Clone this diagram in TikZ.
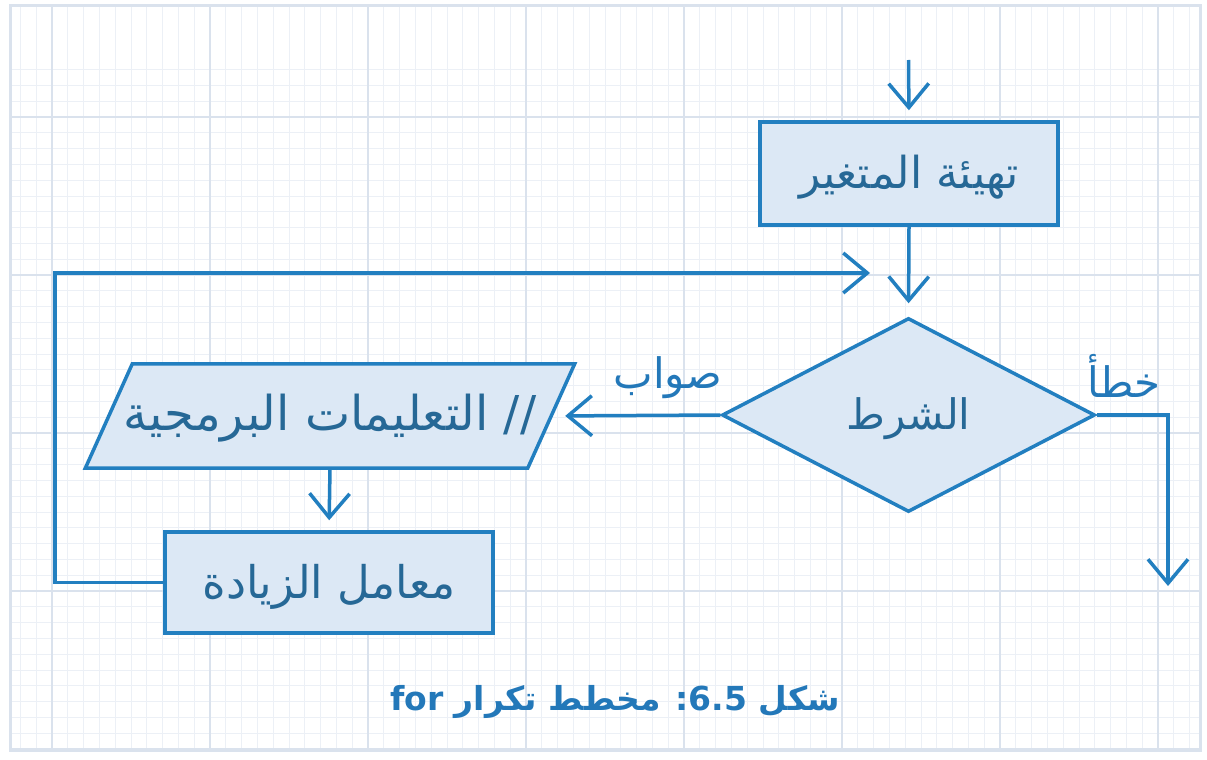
\documentclass[tikz,border=0pt]{standalone}
\usepackage{fontspec}
\usetikzlibrary{arrows.meta,shapes.geometric}
\TeXXeTstate=1
\newfontfamily\arabicfont[Script=Arabic]{DejaVu Sans}
\definecolor{gridminor}{RGB}{236,240,246}
\definecolor{gridmajor}{RGB}{218,226,237}
\definecolor{lineblue}{RGB}{34,127,192}
\definecolor{boxfill}{RGB}{220,232,245}
\definecolor{txtblue}{RGB}{38,104,150}
\definecolor{capblue}{RGB}{35,120,185}
\tikzset{
  flowbox/.style={draw=lineblue, fill=boxfill, line width=3.5pt, rectangle, inner sep=0pt},
  decision/.style={draw=lineblue, fill=boxfill, line width=3.5pt, diamond, inner sep=0pt, aspect=1.92},
  lbl/.style={text=txtblue, font=\arabicfont},
  edgelbl/.style={text=capblue, font=\arabicfont\fontsize{42}{48}\selectfont},
  arr/.style={draw=lineblue, line width=3.5pt, -{Straight Barb[length=24pt,width=40pt,line width=3.5pt]}},
}
\begin{document}
\begin{tikzpicture}[x=1pt,y=-1pt]
\useasboundingbox (0,0) rectangle (1207,760);
\fill[white] (0,0) rectangle (1207,760);
% grid
\begin{scope}
\clip (10,6) rectangle (1200,750);
\foreach \i in {-3,...,74} {
  \draw[gridminor, line width=1pt] ({52+15.8*\i},0) -- ({52+15.8*\i},760);
}
\foreach \i in {-3,...,46} {
  \draw[gridminor, line width=1pt] (0,{117+15.8*\i}) -- (1207,{117+15.8*\i});
}
\foreach \i in {0,...,7} {
  \draw[gridmajor, line width=1.6pt] ({52+158*\i},0) -- ({52+158*\i},760);
}
\foreach \i in {0,...,4} {
  \draw[gridmajor, line width=1.6pt] (0,{117+158*\i}) -- (1207,{117+158*\i});
}
\end{scope}
\draw[gridmajor, line width=3pt] (10,6) rectangle (1200,750);

% nodes
\node[flowbox, minimum width=298pt, minimum height=103pt] (init) at (909,173.5) {};
\node[lbl, font=\arabicfont\fontsize{44}{50}\selectfont] at ([yshift=-4pt]init.center) {\beginR تهيئة المتغير\endR};
\node[decision, minimum width=373pt, minimum height=194pt] (cond) at (908.5,415) {};
\node[lbl, font=\arabicfont\fontsize{42}{48}\selectfont] at ([yshift=-4pt]cond.center) {\beginR الشرط\endR};

\node[rectangle, minimum width=442pt, minimum height=104pt, inner sep=0pt] (par) at (330,416) {};
\draw[lineblue, fill=boxfill, line width=3.5pt, line join=miter]
  ([xshift=23.5pt]par.north west) -- ([xshift=23.5pt]par.north east)
  -- ([xshift=-23.5pt]par.south east) -- ([xshift=-23.5pt]par.south west) -- cycle;
\node[lbl, font=\arabicfont\fontsize{48}{54}\selectfont] at ([yshift=-2pt]par.center) {\beginR // التعليمات البرمجية\endR};

\node[flowbox, minimum width=328pt, minimum height=101pt] (inc) at (329,582.5) {};
\node[lbl, font=\arabicfont\fontsize{45}{50}\selectfont] at ([yshift=-4pt]inc.center) {\beginR معامل الزيادة\endR};

% labels
\node[edgelbl] (yes) at (668,378) {\beginR صواب\endR};
\node[edgelbl] (no) at (1124,376) {\beginR خطأ\endR};

% caption
\node[text=capblue, font=\arabicfont\bfseries\fontsize{33}{38}\selectfont] (cap) at (615,702)
  {\beginR شكل \beginL 6.5\endL: مخطط تكرار \beginL for\endL\endR};

% connectors
\coordinate (start) at (908.5,60);
\coordinate (loopa) at (55,273);
\coordinate (loopb) at (870,273);
\coordinate (fend) at (1168,586);
\draw[arr, shorten >=10pt] (start) -- (init.north);
\draw[arr, shorten >=13pt] (init.south) -- (cond.north);
\draw[arr, shorten >=14pt] (cond.west) -- (par.east);
\draw[arr, shorten >=10pt] (par.south) -- (inc.north);
\draw[arr] (inc.west) -| (loopa) -- (loopb);
\draw[arr] (cond.east) -| (fend);
\end{tikzpicture}
\end{document}
